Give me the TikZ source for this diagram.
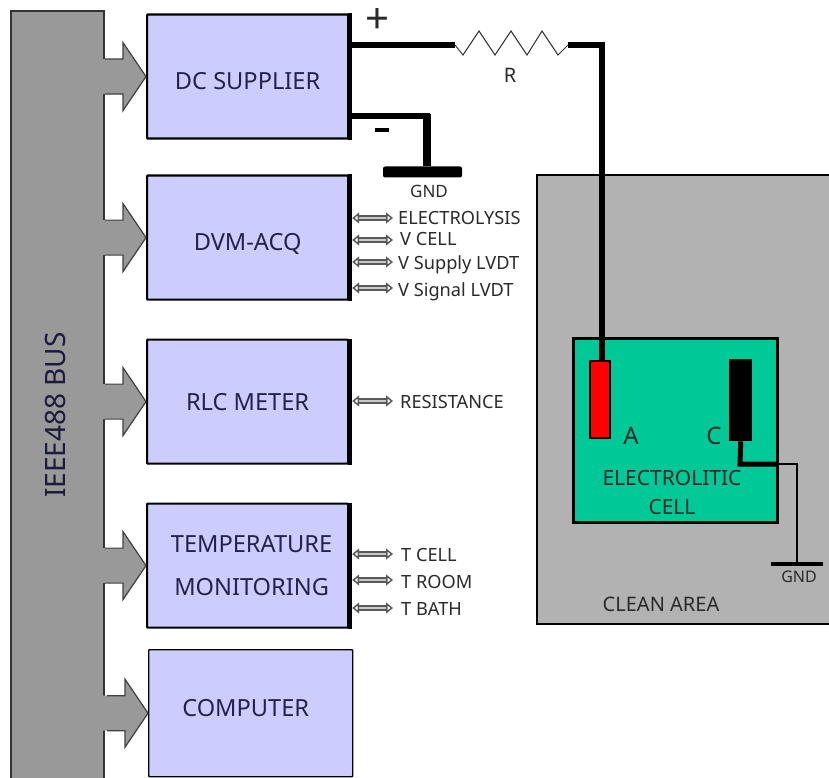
\documentclass[tikz,border=0pt]{standalone}
\usepackage{fontspec}
\setmainfont{Noto Sans}
\usetikzlibrary{arrows.meta,calc}
\definecolor{busgray}{HTML}{999999}
\definecolor{boxblue}{HTML}{CCCCFF}
\definecolor{boxtext}{HTML}{22224A}
\definecolor{areagray}{HTML}{B2B2B2}
\definecolor{cellgreen}{HTML}{00C896}
\definecolor{labeltext}{HTML}{2A2A2A}
\tikzset{
  x=1pt,y=-1pt,
  block/.style={draw=black,line width=2.2pt,fill=boxblue,text=boxtext,minimum width=201pt,minimum height=124pt,inner sep=0pt,align=center,font=\fontsize{23.6}{43}\selectfont,rounded corners=0.8pt},
  sig/.style={font=\fontsize{18.2}{20}\selectfont,text=labeltext,anchor=west,inner sep=0pt,text height=13pt,text depth=0pt},
  plain/.style={font=\fontsize{20}{24}\selectfont,text=labeltext,inner sep=0pt},
  sigarrow/.style={draw=black!65,double=white!78!black,double distance=2.6pt,line width=1.5pt,{Triangle[open,length=7pt,width=11pt]}-{Triangle[open,length=7pt,width=11pt]}},
  wire/.style={draw=black,line width=5.5pt,line join=miter},
  thinwire/.style={draw=black,line width=2pt},
  zig/.style={draw=black!80,line width=1pt},
  edgeline/.style={draw=black,line width=4pt},
}
\newcommand{\busarrow}[1]{%
  \begin{scope}[shift={(#1.west)}]
    \fill[busgray] (-48,-17.5) -- (-23,-17.5) -- (-23,-34) -- (0,0) -- (-23,34) -- (-23,17.5) -- (-48,17.5) -- cycle;
    \draw[black!75,line width=1.2pt] (-41,-17.5) -- (-23,-17.5) -- (-23,-34) -- (0,0) -- (-23,34) -- (-23,17.5) -- (-41,17.5);
  \end{scope}}
\begin{document}
\begin{tikzpicture}
\useasboundingbox (0,0) rectangle (829,778);
% clean area
\node[draw=black,line width=2pt,fill=areagray,minimum width=300pt,minimum height=448pt,inner sep=0pt,anchor=north west] (area) at (536,174.5) {};
\fill[white] (829,170) rectangle (845,630);
% bus
\fill[busgray] (11,11) rectangle (104,778);
\draw[black!80,line width=1.3pt] (11,778) -- (11,11) -- (104,11) -- (104,778);
\node[rotate=90,font=\fontsize{28}{30}\selectfont,text=boxtext!80!black] (bustext) at (56,415) {IEEE488 BUS};
% blocks
\node[block,anchor=north west] (dc) at (146,13.5) {\rule{0pt}{26pt}DC SUPPLIER};
\node[block,anchor=north west] (dvm) at (146,174.5) {\rule{0pt}{29pt}DVM-ACQ};
\node[block,anchor=north west] (rlc) at (146,338.5) {RLC METER};
\node[block,anchor=north west] (temp) at (146,502.5) {\hspace*{8pt}TEMPERATURE\\\hspace*{8pt}MONITORING};
\node[block,anchor=north west,minimum width=204pt,minimum height=127pt,line width=1.4pt] (comp) at (148,649) {\raisebox{10pt}{\hspace*{-10pt}COMPUTER}};
\foreach \b in {dc,dvm,rlc,temp}
  \draw[edgeline] ([xshift=1pt]\b.north east) -- ([xshift=1pt]\b.south east);
\busarrow{dc}\busarrow{dvm}\busarrow{rlc}\busarrow{temp}\busarrow{comp}
% signals
\node[sig] (l1) at (398,218) {ELECTROLYSIS};
\node[sig] (l2) at (400,239) {V CELL};
\node[sig] (l3) at (398,263) {V Supply LVDT};
\node[sig] (l4) at (398,290) {V Signal LVDT};
\node[sig] (l5) at (400,402) {RESISTANCE};
\node[sig] (l6) at (401,555) {T CELL};
\node[sig] (l7) at (401,582) {T ROOM};
\node[sig] (l8) at (401,609) {T BATH};
\coordinate (e1) at (393,218);\coordinate (e2) at (393,240);\coordinate (e3) at (393,262);\coordinate (e4) at (393,288);
\coordinate (e5) at (393,401);\coordinate (e6) at (393,554);\coordinate (e7) at (393,580);\coordinate (e8) at (393,608);
\foreach \b/\e in {dvm/e1,dvm/e2,dvm/e3,dvm/e4,rlc/e5,temp/e6,temp/e7,temp/e8}
  \draw[sigarrow] (\b.east |- \e) ++(3,0) -- (\e);
% cell
\node[draw=black,line width=3.2pt,fill=cellgreen,minimum width=204pt,minimum height=184pt,inner sep=0pt,anchor=north west] (cell) at (571.5,337) {};
\node[draw=black,line width=1.5pt,fill=red,minimum width=20pt,minimum height=77pt,inner sep=0pt,anchor=north west] (anode) at (589,360) {};
\node[fill=black,minimum width=23pt,minimum height=82pt,inner sep=0pt,anchor=north west] (cathode) at (729,359) {};
\node[plain,font=\fontsize{24}{26}\selectfont] (A) at (631,436) {A};
\node[plain,font=\fontsize{24}{26}\selectfont] (C) at (714,436) {C};
\node[plain,font=\fontsize{21}{24}\selectfont] (ec1) at (672,478) {ELECTROLITIC};
\node[plain,font=\fontsize{21}{24}\selectfont] (ec2) at (672,507) {CELL};
\node[plain,font=\fontsize{20}{24}\selectfont] (clean) at (661,604) {CLEAN AREA};
% supply wires
\coordinate (rin) at (455,45);
\coordinate (rout) at (568,45);
\draw[wire] (dc.east |- rin) -- (rin);
\draw[zig] (rin) -- (463,55) -- (479,31) -- (495,55) -- (511,31) -- (527,55) -- (542,31) -- (558,55) -- (rout);
\draw[wire] (rout) -- (602,45) -- (anode.north -| 602,0);
\node[plain] (R) at (510,75) {R};
\node[plain,font=\fontsize{42}{44}\selectfont] (plus) at (378,21) {+};
\node[fill=black,minimum width=14pt,minimum height=4pt,inner sep=0pt] (minusb) at (382,130) {};
\node[fill=black,rounded corners=2pt,minimum width=79pt,minimum height=11pt,inner sep=0pt] (gnd1) at (422.5,172) {};
\node[plain,font=\fontsize{17}{20}\selectfont] (gnd1t) at (429,191) {GND};
\draw[wire] (dc.east |- 0,116) -- (427,116) -- (427,166.5);
\draw[line width=8pt,draw=black] (427,114) -- (gnd1.north -| 427,0);
% ground of cell
\draw[line width=5pt,draw=black] (cathode.south) -- (740,464) -- (777,464);
\draw[thinwire] (777,464) -- (797,464) -- (797,564);
\node[fill=black,minimum width=52pt,minimum height=4pt,inner sep=0pt] (gnd2) at (797,564) {};
\node[plain,font=\fontsize{16}{18}\selectfont] (gnd2t) at (799,577) {GND};
\end{tikzpicture}
\end{document}
